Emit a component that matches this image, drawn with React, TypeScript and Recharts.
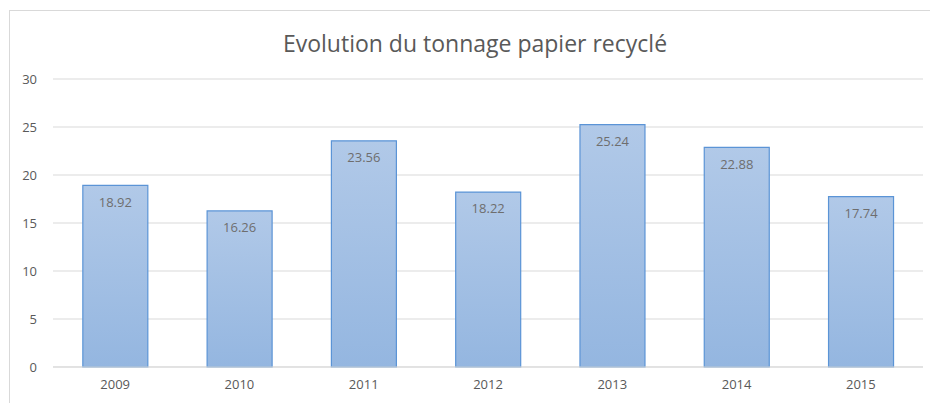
import { BarChart, Bar, XAxis, YAxis, CartesianGrid, LabelList } from "recharts";

const years = ["2009", "2010", "2011", "2012", "2013", "2014", "2015"];
const tonnage = [18.92, 16.26, 23.56, 18.22, 25.24, 22.88, 17.74];
const yTicks = [0, 5, 10, 15, 20, 25, 30];

const data = years.map((year, i) => ({ year, value: tonnage[i] }));

const font = "Open Sans, Liberation Sans, sans-serif";
const grey = "#595959";

export default function App() {
  return (
    <div style={{ position: "absolute", left: 0, top: 0, width: 930, height: 403, background: "#fff", overflow: "hidden" }}>
      <div
        style={{
          position: "absolute",
          left: 9,
          top: 10,
          width: 940,
          height: 420,
          border: "1px solid #d9d9d9",
          boxSizing: "border-box",
        }}
      />
      <div
        style={{
          position: "absolute",
          left: 0,
          width: 950,
          top: 27,
          textAlign: "center",
          fontFamily: font,
          fontSize: 23,
          color: grey,
        }}
      >
        Evolution du tonnage papier recyclé
      </div>
      <div style={{ position: "absolute", left: 0, top: 0 }}>
        <BarChart width={930} height={403} data={data} margin={{ top: 79, right: 7, left: 0, bottom: 6 }} barCategoryGap="24%">
          <defs>
            <linearGradient id="barFill" x1="0" y1="0" x2="0" y2="1">
              <stop offset="0%" stopColor="#b1c9e8" />
              <stop offset="100%" stopColor="#94b6e0" />
            </linearGradient>
          </defs>
          <CartesianGrid stroke="#d9d9d9" vertical={false} />
          <XAxis
            dataKey="year"
            height={30}
            tickLine={false}
            tickSize={0}
            tickMargin={13}
            axisLine={{ stroke: "#d9d9d9" }}
            tick={{ fill: grey, fontSize: 13, fontFamily: font }}
          />
          <YAxis
            width={53}
            domain={[0, 30]}
            ticks={yTicks}
            tickLine={false}
            tickSize={0}
            tickMargin={16}
            axisLine={false}
            tick={{ fill: grey, fontSize: 13, fontFamily: font }}
          />
          <Bar dataKey="value" fill="url(#barFill)" stroke="#5b94d6" strokeWidth={1.2} isAnimationActive={false}>
            <LabelList
              dataKey="value"
              position="insideTop"
              offset={12}
              fill="#6e6e6e"
              fontSize={13}
              fontFamily={font}
              formatter={(v: number) => v.toFixed(2)}
            />
          </Bar>
        </BarChart>
      </div>
    </div>
  );
}
